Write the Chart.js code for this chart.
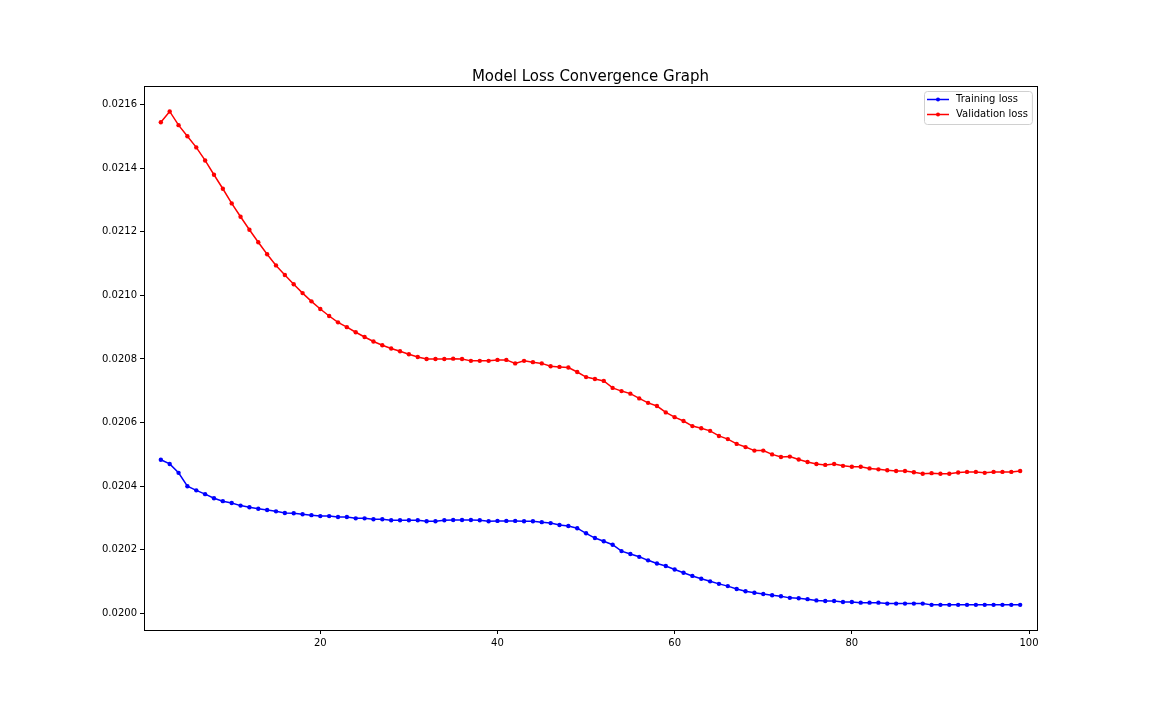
<!DOCTYPE html>
<html>
<head>
<meta charset="utf-8">
<script src="https://cdn.jsdelivr.net/npm/chart.js@4.4.0/dist/chart.umd.min.js"></script>
<style>
  body { margin: 0; background: #fff; }
  #wrap { width: 1152px; height: 720px; }
</style>
</head>
<body>
<div id="wrap"><canvas id="loss_chart" width="1152" height="720"></canvas></div>
<script>
// epochs 2..99
var epochs = [];
for (var e = 2; e <= 99; e++) epochs.push(e);

var training_loss = [
  0.020483, 0.020470, 0.020442, 0.020400, 0.020387, 0.020375, 0.020362, 0.020353, 0.020347, 0.020339,
  0.020334, 0.020329, 0.020325, 0.020321, 0.020316, 0.020315, 0.020312, 0.020309, 0.020306, 0.020306,
  0.020303, 0.020303, 0.020299, 0.020299, 0.020296, 0.020296, 0.020293, 0.020293, 0.020293, 0.020293,
  0.020290, 0.020290, 0.020293, 0.020294, 0.020294, 0.020294, 0.020293, 0.020290, 0.020291, 0.020291,
  0.020291, 0.020290, 0.020290, 0.020287, 0.020284, 0.020278, 0.020275, 0.020268, 0.020252, 0.020237,
  0.020227, 0.020216, 0.020196, 0.020187, 0.020178, 0.020167, 0.020157, 0.020149, 0.020138, 0.020128,
  0.020118, 0.020109, 0.020101, 0.020093, 0.020086, 0.020077, 0.020070, 0.020065, 0.020061, 0.020057,
  0.020054, 0.020049, 0.020048, 0.020045, 0.020041, 0.020039, 0.020039, 0.020036, 0.020036, 0.020034,
  0.020034, 0.020034, 0.020031, 0.020031, 0.020031, 0.020031, 0.020031, 0.020027, 0.020027, 0.020027,
  0.020027, 0.020027, 0.020027, 0.020027, 0.020027, 0.020027, 0.020027, 0.020027
];

var validation_loss = [
  0.021544, 0.021578, 0.021535, 0.021500, 0.021465, 0.021424, 0.021379, 0.021335, 0.021289, 0.021247,
  0.021206, 0.021167, 0.021129, 0.021094, 0.021064, 0.021035, 0.021007, 0.020981, 0.020957, 0.020935,
  0.020915, 0.020900, 0.020884, 0.020869, 0.020855, 0.020843, 0.020833, 0.020824, 0.020815, 0.020806,
  0.020800, 0.020800, 0.020800, 0.020801, 0.020800, 0.020794, 0.020794, 0.020794, 0.020797, 0.020797,
  0.020786, 0.020794, 0.020790, 0.020786, 0.020777, 0.020775, 0.020773, 0.020759, 0.020743, 0.020737,
  0.020731, 0.020709, 0.020699, 0.020691, 0.020676, 0.020662, 0.020652, 0.020632, 0.020617, 0.020605,
  0.020589, 0.020582, 0.020574, 0.020558, 0.020548, 0.020533, 0.020523, 0.020512, 0.020512, 0.020500,
  0.020492, 0.020493, 0.020484, 0.020476, 0.020470, 0.020467, 0.020470, 0.020464, 0.020461, 0.020461,
  0.020456, 0.020453, 0.020450, 0.020448, 0.020448, 0.020444, 0.020439, 0.020441, 0.020439, 0.020439,
  0.020443, 0.020445, 0.020445, 0.020442, 0.020445, 0.020445, 0.020445, 0.020448
];

var x_ticks = [20, 40, 60, 80, 100];
var y_ticks = [0.0200, 0.0202, 0.0204, 0.0206, 0.0208, 0.0210, 0.0212, 0.0214, 0.0216];

var font_family = "'DejaVu Sans', sans-serif";

function toPoints(xs, ys) {
  var pts = [];
  for (var i = 0; i < xs.length; i++) pts.push({ x: xs[i], y: ys[i] });
  return pts;
}

// top + right spines
var frame_plugin = {
  id: 'frame',
  afterDatasetsDraw: function (chart) {
    var a = chart.chartArea, ctx = chart.ctx;
    ctx.save();
    ctx.strokeStyle = '#000';
    ctx.lineWidth = 1;
    ctx.strokeRect(Math.round(a.left) + 0.5, Math.round(a.top) + 0.5,
                   Math.round(a.right - a.left), Math.round(a.bottom - a.top));
    ctx.restore();
  }
};

// matplotlib style legend, upper right inside the axes
var legend_plugin = {
  id: 'mplLegend',
  afterDraw: function (chart) {
    var a = chart.chartArea, ctx = chart.ctx;
    var sets = chart.data.datasets;
    ctx.save();
    ctx.font = '10px ' + font_family;
    var textW = 0;
    sets.forEach(function (d) { textW = Math.max(textW, ctx.measureText(d.label).width); });
    var w = 4 + 20 + 8 + textW + 4, h = 4 + sets.length * 14 + 1;
    var x0 = Math.round(a.right - 5 - w), y0 = Math.round(a.top + 5);
    ctx.beginPath();
    if (ctx.roundRect) ctx.roundRect(x0 + 0.5, y0 + 0.5, w, h, 3); else ctx.rect(x0 + 0.5, y0 + 0.5, w, h);
    ctx.fillStyle = 'rgba(255,255,255,0.8)';
    ctx.fill();
    ctx.strokeStyle = '#d0d0d0';
    ctx.lineWidth = 1;
    ctx.stroke();
    sets.forEach(function (d, i) {
      var cy = y0 + 8.5 + i * 15;
      ctx.strokeStyle = d.borderColor;
      ctx.lineWidth = 1.5;
      ctx.beginPath();
      ctx.moveTo(x0 + 3, cy);
      ctx.lineTo(x0 + 25, cy);
      ctx.stroke();
      ctx.fillStyle = d.borderColor;
      ctx.beginPath();
      ctx.arc(x0 + 14, cy, 2, 0, Math.PI * 2);
      ctx.fill();
      ctx.fillStyle = '#000';
      ctx.textBaseline = 'middle';
      ctx.textAlign = 'left';
      ctx.fillText(d.label, x0 + 32, cy);
    });
    ctx.restore();
  }
};

var ctx_loss = document.getElementById('loss_chart').getContext('2d');

var lossChart = new Chart(ctx_loss, {
  type: 'line',
  data: {
    datasets: [
      {
        label: 'Training loss',
        data: toPoints(epochs, training_loss),
        borderColor: '#0000ff',
        backgroundColor: '#0000ff',
        borderWidth: 1.5,
        pointRadius: 2.2,
        pointBorderWidth: 0,
        tension: 0,
        fill: false
      },
      {
        label: 'Validation loss',
        data: toPoints(epochs, validation_loss),
        borderColor: '#ff0000',
        backgroundColor: '#ff0000',
        borderWidth: 1.5,
        pointRadius: 2.2,
        pointBorderWidth: 0,
        tension: 0,
        fill: false
      }
    ]
  },
  options: {
    responsive: false,
    animation: false,
    layout: { padding: { left: 0, right: 115, top: 0, bottom: 0 } },
    plugins: {
      legend: { display: false },
      tooltip: { enabled: false },
      title: {
        display: true,
        fullSize: false,
        text: 'Model Loss Convergence Graph',
        color: '#000',
        font: { family: font_family, size: 15, weight: 'normal' },
        padding: { top: 68, bottom: 0 }
      }
    },
    scales: {
      x: {
        type: 'linear',
        min: 0.1,
        max: 100.9,
        afterBuildTicks: function (scale) {
          scale.ticks = x_ticks.map(function (v) { return { value: v }; });
        },
        afterFit: function (scale) { scale.height = 90; },
        ticks: {
          color: '#000',
          font: { family: font_family, size: 10 },
          padding: 3,
          maxRotation: 0,
          autoSkip: false,
          callback: function (v) { return String(v); }
        },
        grid: { drawOnChartArea: false, drawTicks: true, tickLength: 4, color: '#000' },
        border: { display: true, color: '#000', width: 1 }
      },
      y: {
        type: 'linear',
        min: 0.019948,
        max: 0.021658,
        afterBuildTicks: function (scale) {
          scale.ticks = y_ticks.map(function (v) { return { value: v }; });
        },
        afterFit: function (scale) { scale.width = 144; },
        ticks: {
          color: '#000',
          font: { family: font_family, size: 10 },
          padding: 3,
          autoSkip: false,
          callback: function (v) { return v.toFixed(4); }
        },
        grid: { drawOnChartArea: false, drawTicks: true, tickLength: 4, color: '#000' },
        border: { display: true, color: '#000', width: 1 }
      }
    }
  },
  plugins: [frame_plugin, legend_plugin]
});
</script>
</body>
</html>
